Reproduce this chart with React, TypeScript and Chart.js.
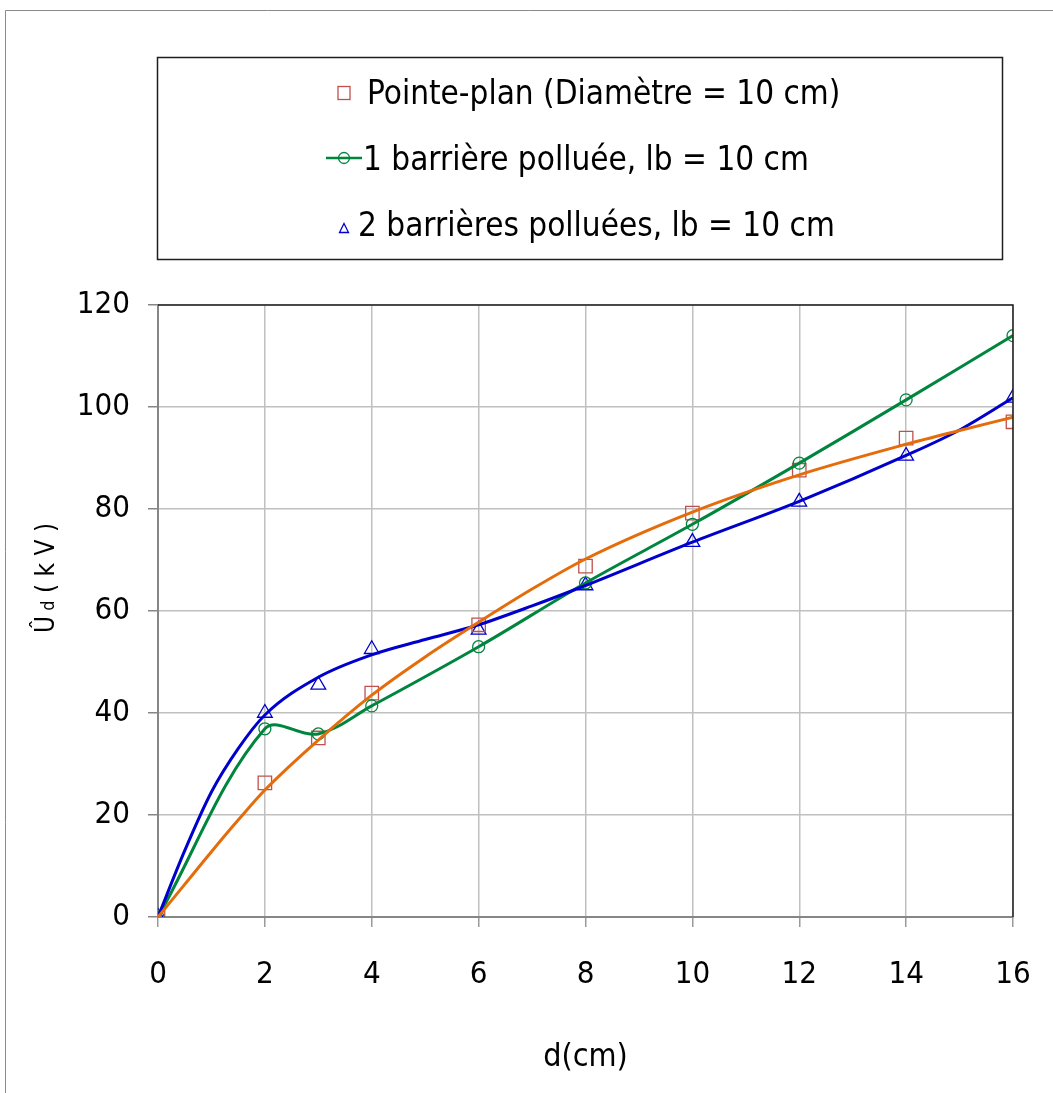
import React, { useEffect, useRef } from 'react';
import { Chart, registerables } from 'chart.js';

Chart.register(...registerables);

// ---- data ----
const xValues = [0, 2, 3, 4, 6, 8, 10, 12, 14, 16];
const pointePlan = [0, 26.3, 35.1, 43.9, 57.3, 68.8, 79.2, 87.6, 93.9, 97.1];
const uneBarriere = [0, 36.9, 35.9, 41.4, 53, 65.5, 77, 89, 101.4, 114];
const deuxBarrieres = [0, 40, 45.5, 52.5, 56.3, 65, 73.5, 81.4, 90.4, 101.8];

// trend curves
const trendX = [0, 0.5, 1, 1.5, 2, 3, 4, 5, 6, 7, 8, 10, 12, 14, 15, 16];
const trendPointe = [0, 6.4, 12.8, 19, 24.9, 34.7, 43.5, 51, 57.8, 64.3, 70.2, 79.4, 86.7, 92.7, 95.4, 98];
const trendDeux = [0, 13, 24.5, 33, 39.6, 47, 51.4, 54.4, 57.3, 61, 65, 73.5, 81.5, 90.5, 95.5, 101.8];

const legendLabels = [
  'Pointe-plan (Diamètre = 10 cm)',
  '1 barrière polluée, lb = 10 cm',
  '2 barrières polluées, lb = 10 cm',
];
const xTitle = 'd(cm)';
const yTicksMax = 120;
const xTicksMax = 16;

const FONT = '"DejaVu Sans Condensed", "Liberation Sans", sans-serif';
const RED = '#c0504d';
const ORANGE = '#e46c0a';
const GREEN = '#00853e';
const BLUE = '#0000cc';

function pts(xs: number[], ys: number[]) {
  return xs.map((x, i) => ({ x, y: ys[i] }));
}

function drawSquare(ctx: CanvasRenderingContext2D, x: number, y: number, w: number, h: number) {
  ctx.strokeRect(x - w / 2, y - h / 2, w, h);
}
function drawCircle(ctx: CanvasRenderingContext2D, x: number, y: number, r: number) {
  ctx.beginPath();
  ctx.arc(x, y, r, 0, Math.PI * 2);
  ctx.stroke();
}
function drawTriangle(ctx: CanvasRenderingContext2D, x: number, y: number, w: number, h: number) {
  ctx.beginPath();
  ctx.moveTo(x, y - h / 2);
  ctx.lineTo(x + w / 2, y + h / 2);
  ctx.lineTo(x - w / 2, y + h / 2);
  ctx.closePath();
  ctx.stroke();
}

const decor = {
  id: 'decor',
  afterDraw(chart: any) {
    const ctx: CanvasRenderingContext2D = chart.ctx;
    const { left, right, top, bottom } = chart.chartArea;
    ctx.save();
    // outer frame
    ctx.strokeStyle = '#8a8a8a';
    ctx.lineWidth = 1;
    ctx.beginPath();
    ctx.moveTo(5.5, 1093);
    ctx.lineTo(5.5, 10.5);
    ctx.lineTo(1053, 10.5);
    ctx.stroke();

    // plot area top & right border
    ctx.strokeStyle = '#1e1e1e';
    ctx.lineWidth = 1.5;
    ctx.beginPath();
    ctx.moveTo(left, top);
    ctx.lineTo(right, top);
    ctx.lineTo(right, bottom);
    ctx.stroke();

    // legend box
    ctx.strokeStyle = '#1e1e1e';
    ctx.lineWidth = 1.5;
    ctx.strokeRect(157.5, 57.5, 845, 202);

    ctx.font = `33px ${FONT}`;
    ctx.fillStyle = '#000';
    ctx.textBaseline = 'alphabetic';
    ctx.textAlign = 'left';

    // item 1
    ctx.strokeStyle = RED;
    ctx.lineWidth = 1.3;
    drawSquare(ctx, 344, 93, 12, 13);
    ctx.fillText(legendLabels[0], 367, 104);

    // item 2
    ctx.strokeStyle = GREEN;
    ctx.lineWidth = 2.5;
    ctx.beginPath();
    ctx.moveTo(326, 158);
    ctx.lineTo(362, 158);
    ctx.stroke();
    ctx.lineWidth = 1.3;
    drawCircle(ctx, 344, 158, 5.5);
    ctx.fillText(legendLabels[1], 363, 170);

    // item 3
    ctx.strokeStyle = BLUE;
    ctx.lineWidth = 1.3;
    drawTriangle(ctx, 344, 228, 9, 9);
    ctx.fillText(legendLabels[2], 358, 236);

    // y axis title: Û d ( k V ) with subscript d
    ctx.translate(54, 578);
    ctx.rotate(-Math.PI / 2);
    const parts = [
      { t: 'Û', s: 26, dy: 0 },
      { t: ' d', s: 18, dy: 0 },
      { t: ' ( k V )', s: 26, dy: 0 },
    ];
    let total = 0;
    for (const p of parts) {
      ctx.font = `${p.s}px ${FONT}`;
      total += ctx.measureText(p.t).width;
    }
    let cx = -total / 2;
    for (const p of parts) {
      ctx.font = `${p.s}px ${FONT}`;
      ctx.fillText(p.t, cx, p.dy);
      cx += ctx.measureText(p.t).width;
    }
    ctx.restore();
  },
};

export default function App() {
  const canvasRef = useRef<HTMLCanvasElement | null>(null);

  useEffect(() => {
    const canvas = canvasRef.current;
    if (!canvas) return;
    const chart = new Chart(canvas, {
      type: 'scatter',
      data: {
        datasets: [
          {
            label: 'trend pointe',
            data: pts(trendX, trendPointe),
            showLine: true,
            borderColor: ORANGE,
            borderWidth: 3,
            pointRadius: 0,
            cubicInterpolationMode: 'monotone',
          } as any,
          {
            label: 'trend deux',
            data: pts(trendX, trendDeux),
            showLine: true,
            borderColor: BLUE,
            borderWidth: 3,
            pointRadius: 0,
            cubicInterpolationMode: 'monotone',
          } as any,
          {
            label: legendLabels[1],
            data: pts(xValues, uneBarriere),
            showLine: true,
            borderColor: GREEN,
            borderWidth: 3,
            tension: 0.35,
            pointStyle: 'circle',
            pointRadius: 6,
            pointBorderWidth: 1.3,
            pointBorderColor: GREEN,
            pointBackgroundColor: 'rgba(0,0,0,0)',
          } as any,
          {
            label: legendLabels[0],
            data: pts(xValues, pointePlan),
            showLine: false,
            pointStyle: 'rect',
            pointRadius: 9.5,
            pointBorderWidth: 1.3,
            pointBorderColor: RED,
            pointBackgroundColor: 'rgba(0,0,0,0)',
          } as any,
          {
            label: legendLabels[2],
            data: pts(xValues, deuxBarrieres),
            showLine: false,
            pointStyle: 'triangle',
            pointRadius: 8.5,
            pointBorderWidth: 1.3,
            pointBorderColor: BLUE,
            pointBackgroundColor: 'rgba(0,0,0,0)',
          } as any,
        ],
      },
      options: {
        animation: false,
        responsive: false,
        devicePixelRatio: 1,
        layout: { padding: { top: 305, right: 40, bottom: 0, left: 0 } },
        plugins: {
          legend: { display: false },
          tooltip: { enabled: false },
        },
        scales: {
          x: {
            type: 'linear',
            min: 0,
            max: xTicksMax,
            ticks: { stepSize: 2, color: '#000', font: { family: FONT, size: 31 }, padding: 29 },
            grid: { color: '#c0c0c0', lineWidth: 1.5, tickLength: 10, tickColor: '#9a9a9a' },
            border: { color: '#868686', width: 2 },
            title: {
              display: true,
              text: xTitle,
              color: '#000',
              font: { family: FONT, size: 32 },
              padding: { top: 0, bottom: 16 },
            },
            afterFit: (scale: any) => {
              scale.height = 176;
              scale.paddingLeft = 0;
              scale.paddingRight = 0;
            },
          },
          y: {
            type: 'linear',
            min: 0,
            max: yTicksMax,
            ticks: { stepSize: 20, color: '#000', font: { family: FONT, size: 31 }, padding: 18 },
            grid: { color: '#c0c0c0', lineWidth: 1.5, tickLength: 10, tickColor: '#868686' },
            border: { color: '#868686', width: 2 },
            afterFit: (scale: any) => {
              scale.width = 158;
              scale.paddingTop = 0;
              scale.paddingBottom = 0;
            },
          },
        },
      } as any,
      plugins: [decor],
    });
    return () => chart.destroy();
  }, []);

  return (
    <div style={{ position: 'absolute', left: 0, top: 0, width: 1053, height: 1093, background: '#fff' }}>
      <canvas ref={canvasRef} width={1053} height={1093} style={{ display: 'block' }} />
    </div>
  );
}
